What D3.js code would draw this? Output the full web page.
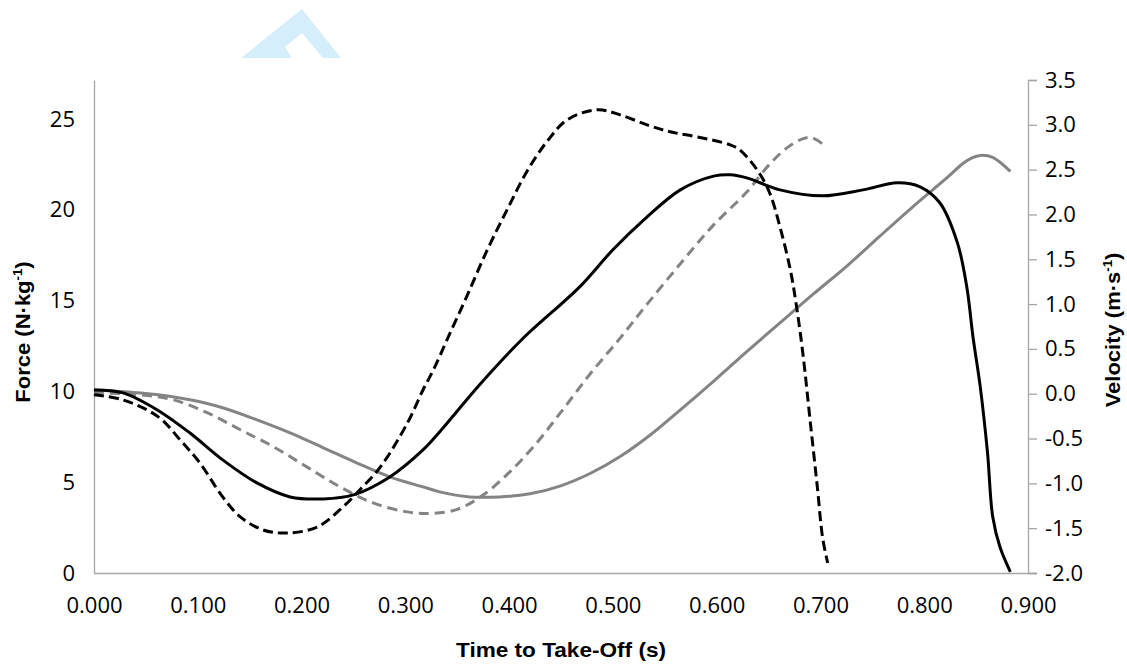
<!DOCTYPE html>
<html>
<head>
<meta charset="utf-8">
<script src="https://cdn.jsdelivr.net/npm/d3@7"></script>
<style>
  body { margin: 0; background: #fff; }
  svg { display: block; }
  .tick text { font-family: "Open Sans", sans-serif; font-size: 22px; fill: #000; }
  .title { font-family: "Liberation Sans", Arial, sans-serif; font-weight: bold; font-size: 20px; fill: #000; }
</style>
</head>
<body>
<svg width="1127" height="666"></svg>
<script>
var width = 1127;
var height = 666;
var margin = { top: 80, right: 99, bottom: 93, left: 94 };

// black solid - force (left axis)
var timeA = [0, 0.028, 0.061, 0.0925, 0.124, 0.157, 0.189, 0.221, 0.250, 0.285, 0.317, 0.333, 0.372, 0.413, 0.468, 0.500, 0.533, 0.565, 0.598, 0.613, 0.629, 0.661, 0.702, 0.741, 0.774, 0.796, 0.815, 0.832, 0.841, 0.847, 0.854, 0.861, 0.866, 0.873, 0.883];
var forceA = [10.08, 9.92, 8.98, 7.71, 6.23, 4.96, 4.19, 4.08, 4.30, 5.29, 6.78, 7.77, 10.40, 12.90, 15.76, 17.80, 19.61, 21.10, 21.87, 21.93, 21.76, 21.10, 20.77, 21.10, 21.49, 21.27, 20.39, 18.18, 15.76, 13.0, 10.25, 6.61, 3.10, 1.43, 0.06];

// black dashed - force (left axis)
var timeB = [0, 0.028, 0.062, 0.083, 0.102, 0.124, 0.141, 0.163, 0.186, 0.215, 0.240, 0.256, 0.276, 0.302, 0.317, 0.327, 0.341, 0.359, 0.379, 0.398, 0.417, 0.437, 0.456, 0.485, 0.507, 0.533, 0.555, 0.581, 0.613, 0.622, 0.639, 0.651, 0.661, 0.671, 0.677, 0.683, 0.690, 0.697, 0.702, 0.707];
var forceB = [9.81, 9.53, 8.60, 7.33, 6.06, 4.19, 3.09, 2.37, 2.20, 2.53, 3.64, 4.57, 5.84, 8.26, 10.08, 11.18, 12.95, 15.21, 17.80, 20.0, 22.10, 23.80, 24.96, 25.51, 25.23, 24.68, 24.30, 24.02, 23.58, 23.31, 22.20, 20.94, 19.06, 16.69, 14.66, 12.12, 8.43, 4.74, 1.98, 0.55];

// grey solid - velocity (right axis)
var timeC = [0, 0.062, 0.0925, 0.124, 0.157, 0.189, 0.221, 0.253, 0.285, 0.317, 0.333, 0.362, 0.391, 0.420, 0.449, 0.478, 0.507, 0.536, 0.565, 0.598, 0.629, 0.661, 0.693, 0.726, 0.757, 0.789, 0.822, 0.837, 0.846, 0.854, 0.866, 0.883];
var velocityC = [0.045, -0.011, -0.067, -0.156, -0.291, -0.436, -0.603, -0.771, -0.927, -1.039, -1.095, -1.151, -1.151, -1.117, -1.030, -0.890, -0.700, -0.460, -0.180, 0.150, 0.470, 0.790, 1.110, 1.430, 1.755, 2.085, 2.410, 2.565, 2.630, 2.659, 2.637, 2.480];

// grey dashed - velocity (right axis)
var timeD = [0, 0.044, 0.076, 0.109, 0.141, 0.173, 0.205, 0.237, 0.269, 0.302, 0.325, 0.350, 0.375, 0.400, 0.425, 0.449, 0.478, 0.507, 0.533, 0.565, 0.596, 0.629, 0.651, 0.671, 0.690, 0.706];
var velocityD = [0.011, -0.011, -0.067, -0.212, -0.402, -0.592, -0.816, -1.039, -1.218, -1.318, -1.335, -1.290, -1.130, -0.880, -0.570, -0.220, 0.220, 0.620, 1.000, 1.450, 1.870, 2.250, 2.560, 2.770, 2.860, 2.749];

var timeTicks = [0, 0.1, 0.2, 0.3, 0.4, 0.5, 0.6, 0.7, 0.8, 0.9];
var forceTicks = [0, 5, 10, 15, 20, 25];
var velocityTicks = [-2, -1.5, -1, -0.5, 0, 0.5, 1, 1.5, 2, 2.5, 3, 3.5];

var svg = d3.select('svg');

// faint watermark shape at the top
svg.append('path')
  .attr('d', 'M241,58 L302,9 L341,58 Z M302,33 L285,47 L292,58 L323,58 Z')
  .attr('fill', '#d5eefb')
  .attr('fill-rule', 'evenodd');

// Setup scales ------------------------------------------------------------
var xScale = d3.scaleLinear().domain([0, 0.9]).range([margin.left, width - margin.right]);
var yForce = d3.scaleLinear().domain([0, 27.15]).range([height - margin.bottom, margin.top]);
var yVel = d3.scaleLinear().domain([-2, 3.5]).range([height - margin.bottom, margin.top]);

// Axes
var xAxis = d3.axisBottom(xScale).tickValues(timeTicks).tickFormat(d => d.toFixed(3)).tickSize(0).tickPadding(24);
var yAxisL = d3.axisLeft(yForce).tickValues(forceTicks).tickSize(0).tickPadding(19);
var yAxisR = d3.axisRight(yVel).tickValues(velocityTicks).tickFormat(d => d.toFixed(1)).tickSize(9).tickPadding(8);

var gx = svg.append('g').attr('transform', 'translate(0,' + (height - margin.bottom) + ')').call(xAxis);
var gl = svg.append('g').attr('transform', 'translate(' + margin.left + ',0)').call(yAxisL);
var gr = svg.append('g').attr('transform', 'translate(' + (width - margin.right) + ',0)').call(yAxisR);

[gx, gl, gr].forEach(g => {
  g.select('.domain').attr('stroke', '#a6a6a6').attr('stroke-width', 1.3);
  g.selectAll('.tick line').attr('stroke', '#a6a6a6').attr('stroke-width', 1.3);
  g.selectAll('.tick text').attr('font-family', null).attr('font-size', null);
});
gx.select('.domain').attr('d', 'M' + margin.left + ',0.5H' + (width - margin.right + 9));

// Lines -------------------------------------------------------------------
var forceLine = d3.line().x(d => xScale(d[0])).y(d => yForce(d[1])).curve(d3.curveCatmullRom.alpha(0.5));
var velLine = d3.line().x(d => xScale(d[0])).y(d => yVel(d[1])).curve(d3.curveCatmullRom.alpha(0.5));

svg.append('path').datum(d3.zip(timeC, velocityC)).attr('d', velLine)
  .attr('fill', 'none').attr('stroke', '#848484').attr('stroke-width', 3);
svg.append('path').datum(d3.zip(timeD, velocityD)).attr('d', velLine)
  .attr('fill', 'none').attr('stroke', '#848484').attr('stroke-width', 3).attr('stroke-dasharray', '10,6');
svg.append('path').datum(d3.zip(timeA, forceA)).attr('d', forceLine)
  .attr('fill', 'none').attr('stroke', '#000').attr('stroke-width', 3);
svg.append('path').datum(d3.zip(timeB, forceB)).attr('d', forceLine)
  .attr('fill', 'none').attr('stroke', '#000').attr('stroke-width', 3).attr('stroke-dasharray', '10,5');

// Titles ------------------------------------------------------------------
svg.append('text').attr('class', 'title')
  .attr('x', (margin.left + width - margin.right) / 2).attr('y', 657)
  .attr('text-anchor', 'middle')
  .attr('textLength', 210).attr('lengthAdjust', 'spacingAndGlyphs')
  .text('Time to Take-Off (s)');

var lt = svg.append('text').attr('class', 'title')
  .attr('text-anchor', 'middle')
  .attr('transform', 'translate(30,332) rotate(-90) scale(1.1,1)');
lt.append('tspan').text('Force (N·kg');
lt.append('tspan').attr('dy', -8).attr('font-size', 12).text('-1');
lt.append('tspan').attr('dy', 8).text(')');

var rt = svg.append('text').attr('class', 'title')
  .attr('text-anchor', 'middle')
  .attr('transform', 'translate(1120,330) rotate(-90) scale(1.1,1)');
rt.append('tspan').text('Velocity (m·s');
rt.append('tspan').attr('dy', -8).attr('font-size', 12).text('-1');
rt.append('tspan').attr('dy', 8).text(')');
</script>
</body>
</html>
